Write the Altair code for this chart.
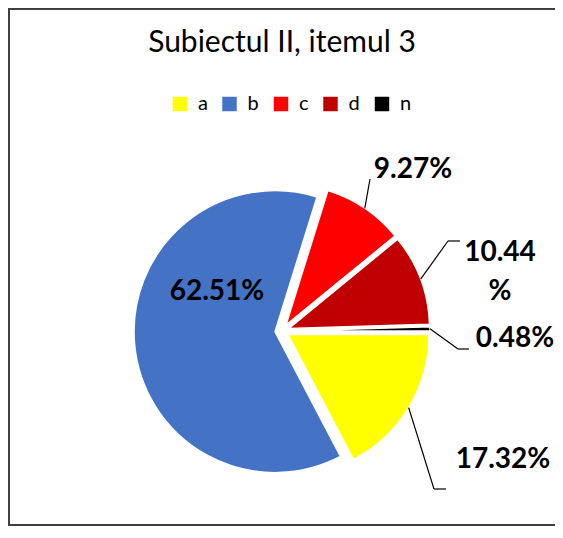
import altair as alt
import pandas as pd

# ---- data ----
title_text = ["Subiectul II, itemul 3"]
categories = ["a", "b", "c", "d", "n"]
values = [17.32, 62.51, 9.27, 10.44, 0.48]
colors = ["#FFFF00", "#4472C4", "#FF0000", "#C00000", "#000000"]

# ---- layout (pixels in chart space; page = chart + 8) ----
W, H = 547, 518
CX, CY, R, EXPLODE = 274, 323, 141, 7
label_x = [495, 209, 405, 492, 507]
label_y = [452, 284, 162, 244.5, 331]
label_wrap = [0, 0, 0, 1, 0]
has_leader = [1, 0, 1, 1, 1]
elbow_x = [426, 0, 362, 440, 450]
elbow_y = [481, 0, 171, 233, 341]
end_x = [438, 0, 362, 452, 461]

df = pd.DataFrame({
    "cat": categories, "value": values, "order": list(range(len(categories))),
    "lx": label_x, "ly": label_y, "wrap": label_wrap, "lead": has_leader,
    "ex": elbow_x, "ey": elbow_y, "hx": end_x,
})

base = alt.Chart(df).transform_joinaggregate(
    total="sum(value)"
).transform_window(
    cum="sum(value)", sort=[alt.SortField("order")], frame=[None, 0]
).transform_calculate(
    t1="PI/2 + 2*PI*datum.cum/datum.total",
    t0="PI/2 + 2*PI*(datum.cum - datum.value)/datum.total",
).transform_calculate(
    mid="(datum.t0 + datum.t1)/2"
).transform_calculate(
    px=f"{CX} + {EXPLODE}*sin(datum.mid)",
    py=f"{CY} - {EXPLODE}*cos(datum.mid)",
    rx=f"{CX} + {R + EXPLODE}*sin(datum.mid)",
    ry=f"{CY} - {R + EXPLODE}*cos(datum.mid)",
    label="format(datum.value, '.2f') + (datum.wrap ? '\\n%' : '%')",
)

arcs = base.mark_arc(radius=R, stroke="white", strokeWidth=1.5).encode(
    x=alt.X("px:Q", scale=None, axis=None),
    y=alt.Y("py:Q", scale=None, axis=None),
    theta=alt.Theta("t0:Q", scale=None),
    theta2=alt.Theta2("t1:Q"),
    color=alt.Color(
        "cat:N",
        scale=alt.Scale(domain=categories, range=colors),
        legend=alt.Legend(
            title=None, orient="none", direction="horizontal",
            legendX=162, legendY=86, padding=0,
            symbolType="square", symbolSize=210, symbolStrokeWidth=0,
            labelFont="Lato", labelFontSize=20, labelColor="black",
            labelOffset=8, columnPadding=11.5,
        ),
    ),
    order=alt.Order("order:Q"),
)

lead1 = base.transform_filter("datum.lead == 1").mark_rule(color="black", strokeWidth=1.2).encode(
    x=alt.X("rx:Q", scale=None), y=alt.Y("ry:Q", scale=None),
    x2="ex:Q", y2="ey:Q",
)
lead2 = base.transform_filter("datum.lead == 1").mark_rule(color="black", strokeWidth=1.2).encode(
    x=alt.X("ex:Q", scale=None), y=alt.Y("ey:Q", scale=None),
    x2="hx:Q", y2="ey:Q",
)

labels = base.mark_text(
    font="Lato", fontSize=28, fontWeight="bold", color="black",
    align="center", baseline="middle", lineBreak="\n", lineHeight=39,
).encode(
    x=alt.X("lx:Q", scale=None), y=alt.Y("ly:Q", scale=None),
    text="label:N",
)

title = alt.Chart(pd.DataFrame({"t": title_text})).mark_text(
    font="Lato", fontSize=30, color="black", align="center", baseline="alphabetic"
).encode(x=alt.value(274), y=alt.value(44), text="t:N")

edge = alt.Chart(pd.DataFrame({"k": [0]}))
left_edge = edge.mark_rule(color="#404040", strokeWidth=2).encode(
    x=alt.value(1), y=alt.value(0), y2=alt.value(H))
top_edge = edge.mark_rule(color="#404040", strokeWidth=2).encode(
    x=alt.value(0), x2=alt.value(W), y=alt.value(1))
bottom_edge = edge.mark_rule(color="#404040", strokeWidth=2).encode(
    x=alt.value(0), x2=alt.value(W), y=alt.value(H - 1))

chart = alt.layer(left_edge, top_edge, bottom_edge, title, arcs, lead1, lead2, labels).properties(
    width=W, height=H, autosize=alt.AutoSizeParams(type="none"), padding=0
).configure_view(strokeWidth=0, stroke="transparent")

chart.save("out.html", embed_options={"renderer": "svg", "actions": False})
